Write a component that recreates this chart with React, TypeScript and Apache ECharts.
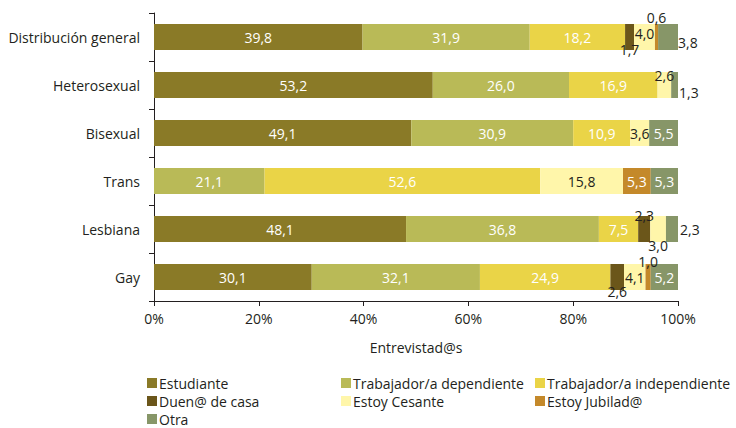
import React, { useEffect, useRef } from "react";
import * as echarts from "echarts";

const categories = ["Distribución general", "Heterosexual", "Bisexual", "Trans", "Lesbiana", "Gay"];
const seriesNames = [
  "Estudiante",
  "Trabajador/a dependiente",
  "Trabajador/a independiente",
  "Duen@ de casa",
  "Estoy Cesante",
  "Estoy Jubilad@",
  "Otra",
];
const estudiante = [39.8, 53.2, 49.1, 0, 48.1, 30.1];
const dependiente = [31.9, 26.0, 30.9, 21.1, 36.8, 32.1];
const independiente = [18.2, 16.9, 10.9, 52.6, 7.5, 24.9];
const duena = [1.7, 0, 0, 0, 2.3, 2.6];
const cesante = [4.0, 2.6, 3.6, 15.8, 3.0, 4.1];
const jubilado = [0.6, 0, 0, 5.3, 0, 1.0];
const otra = [3.8, 1.3, 5.5, 5.3, 2.3, 5.2];
const xTicks = [0, 20, 40, 60, 80, 100];

const seriesValues = [estudiante, dependiente, independiente, duena, cesante, jubilado, otra];
const colors = ["#8A7A27", "#B9BA57", "#EAD447", "#6B561A", "#FFF6AA", "#C4892A", "#879668"];
const labelColors = ["#ffffff", "#ffffff", "#ffffff", "#231F20", "#231F20", "#ffffff", "#ffffff"];

// label placement overrides (style only): [seriesIndex, categoryIndex] -> label options
const labelOverrides: Record<string, any> = {
  "3-0": { position: "bottom", distance: -8 },
  "3-4": { position: "top", distance: -6 },
  "3-5": { position: "bottom", distance: -6 },
  "4-0": { position: "inside", offset: [0, -4] },
  "4-1": { position: "top", distance: -10 },
  "4-4": { position: "bottom", distance: -4 },
  "5-0": { position: "top", distance: 0, color: "#231F20" },
  "5-5": { position: "top", distance: -4, color: "#231F20" },
  "6-0": { position: "right", distance: 0, offset: [0, 5], color: "#231F20" },
  "6-1": { position: "right", distance: 1, offset: [0, 7], color: "#231F20" },
  "6-4": { position: "right", distance: 2, color: "#231F20" },
};

const FONT = "'Open Sans', 'Noto Sans', sans-serif";
const TEXT = "#231F20";
const FS = 14;

export default function App() {
  const ref = useRef<HTMLDivElement>(null);
  useEffect(() => {
    if (!ref.current) return;
    const chart = echarts.init(ref.current, undefined, { renderer: "svg" });
    const series = seriesNames.map((name, si) => ({
      name,
      type: "bar",
      stack: "total",
      barWidth: 26,
      itemStyle: { color: colors[si] },
      label: {
        show: true,
        position: "inside",
        color: labelColors[si],
        fontFamily: FONT,
        fontSize: FS,
        formatter: (p: any) => (p.value ? String(p.value.toFixed(1)).replace(".", ",") : ""),
      },
      data: seriesValues[si].map((v, ci) => {
        const ov = labelOverrides[`${si}-${ci}`];
        const item: any = { value: v };
        if (v === 0) item.label = { show: false };
        else if (ov) item.label = ov;
        return item;
      }),
    }));
    const legendCols = [
      [0, 3, 6],
      [1, 4],
      [2, 5],
    ];
    const legendLeft = [147, 341, 535];
    chart.setOption({
      animation: false,
      textStyle: { fontFamily: FONT },
      grid: { left: 154, right: 58, top: 13, bottom: 127 },
      legend: legendCols.map((col, i) => ({
        orient: "vertical",
        left: legendLeft[i],
        top: 376,
        height: 90,
        itemWidth: 10,
        itemHeight: 10,
        itemGap: 4,
        icon: "rect",
        padding: 0,
        textStyle: { fontFamily: FONT, fontSize: FS, color: TEXT, padding: [0, 0, 0, -3] },
        data: col.map((k) => seriesNames[k]),
      })),
      xAxis: {
        type: "value",
        min: xTicks[0],
        max: xTicks[xTicks.length - 1],
        interval: xTicks[1] - xTicks[0],
        name: "Entrevistad@s",
        nameLocation: "middle",
        nameGap: 39,
        nameTextStyle: { fontFamily: FONT, fontSize: FS, color: TEXT },
        axisLine: { show: true, lineStyle: { color: TEXT, width: 1 } },
        axisTick: { show: true, length: 5, lineStyle: { color: TEXT } },
        axisLabel: { formatter: "{value}%", fontFamily: FONT, fontSize: FS, color: TEXT, margin: 10 },
        splitLine: { show: false },
      },
      yAxis: {
        type: "category",
        inverse: true,
        data: categories,
        axisLine: { show: true, lineStyle: { color: TEXT, width: 1 } },
        axisTick: { show: true, length: 5, lineStyle: { color: TEXT } },
        axisLabel: { fontFamily: FONT, fontSize: FS, color: TEXT, margin: 14 },
      },
      series,
    });
    return () => chart.dispose();
  }, []);
  return <div ref={ref} style={{ width: 736, height: 428, position: "absolute", left: 0, top: 0 }} />;
}
